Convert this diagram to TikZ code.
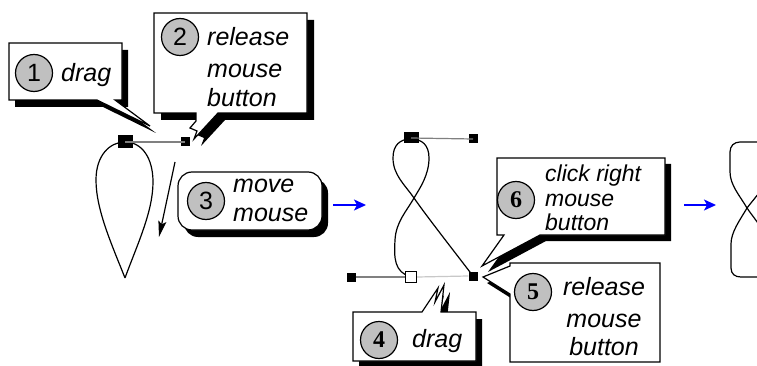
\documentclass[tikz,border=0pt]{standalone}
\usepackage{fontspec}
\setmainfont{Liberation Sans}
\newfontfamily\numserif{Liberation Serif}
\usetikzlibrary{arrows.meta}
\definecolor{numgray}{RGB}{192,192,192}
\definecolor{hgray}{RGB}{128,128,128}
\definecolor{hlight}{RGB}{200,200,200}
\definecolor{arrblue}{RGB}{0,0,255}
\tikzset{
  callout/.style={draw=black, fill=white, line width=1.2pt, line join=miter},
  shadowfill/.style={fill=black},
  numc/.style={circle, draw=black, fill=numgray, line width=1.2pt, minimum size=37pt, inner sep=0pt, font=\fontsize{25}{25}\selectfont},
  numcs/.style={numc, font=\fontsize{24}{24}\selectfont\numserif\bfseries},
  lbl/.style={inner sep=0pt, anchor=base west, font=\fontsize{25}{31}\selectfont\itshape},
  lblsm/.style={lbl, font=\fontsize{23}{24}\selectfont\itshape},
  lblc/.style={lbl, anchor=base},
  handle/.style={draw=hgray, line width=1.2pt},
  handlel/.style={draw=hlight, line width=1.2pt},
  sqb/.style={rectangle, fill=black, minimum size=9pt, inner sep=0pt},
  sqo/.style={rectangle, draw=black, fill=white, line width=1.2pt, minimum size=11pt, inner sep=0pt},
  anchorb/.style={rectangle, fill=black, minimum width=15pt, minimum height=13pt, inner sep=0pt},
  curveline/.style={draw=black, line width=1.2pt},
  bluearrow/.style={draw=arrblue, line width=1.6pt, -{Stealth[length=12pt,width=11pt,inset=3pt]}},
  movearrow/.style={draw=black, line width=1.2pt, -{Stealth[length=16pt,width=8pt,inset=3pt]}}
}
\begin{document}
\begin{tikzpicture}[x=1pt,y=-1pt]
\clip (0,0) rectangle (757,366);
\fill[white] (0,0) rectangle (757,366);

% ---------- left teardrop ----------
\draw[curveline] (125,278) .. controls (112,245) and (96,210) .. (96,180)
  .. controls (96,155) and (110,142) .. (125,142)
  .. controls (142,142) and (153,158) .. (153,182)
  .. controls (153,212) and (137,245) .. (125,278);
\node[anchorb] (a1) at (125,142) {};
\node[sqb] (h1) at (185,142) {};
\draw[handle] (a1.center) -- (h1.center);

% move arrow
\coordinate (m1) at (175,162);
\coordinate (m2) at (159,237);
\draw[movearrow] (m1) -- (m2);

% ---------- callout 1 ----------
\fill[shadowfill,shift={(6,7)}] (9,43) -- (122,43) -- (122,100) -- (115,100) -- (150,126) -- (97,100) -- (9,100) -- cycle;
\draw[callout] (9,43) -- (122,43) -- (122,100) -- (115,100) -- (150,126) -- (97,100) -- (9,100) -- cycle;
\node[numc] (n1) at (34,73) {1};
\node[lbl] (t1) at (61,82) {drag};

% ---------- callout 2 ----------
\fill[shadowfill,shift={(7,7)}] (154,13) -- (307,13) -- (307,113) -- (218,113) -- (194,139) -- (197,131) -- (190,128) -- (196,121) -- (196,113) -- (154,113) -- cycle;
\draw[callout] (154,13) -- (307,13) -- (307,113) -- (218,113) -- (194,139) -- (197,131) -- (190,128) -- (196,121) -- (196,113) -- (154,113) -- cycle;
\node[numc] (n2) at (180,37) {2};
\node[lbl] (t2a) at (207,46) {release};
\node[lbl] (t2b) at (207,78) {mouse};
\node[lbl] (t2c) at (207,107) {button};

% ---------- callout 3 ----------
\fill[shadowfill,rounded corners=14pt] (184,179) rectangle (328,237);
\draw[callout,rounded corners=14pt] (178,172) rectangle (322,230);
\node[numc] (n3) at (206,201) {3};
\node[lbl] (t3a) at (233,193) {move};
\node[lbl] (t3b) at (233,222) {mouse};

% blue arrow 1
\coordinate (b1s) at (333,205);
\coordinate (b1e) at (366,205);
\draw[bluearrow] (b1s) -- (b1e);

% ---------- middle figure eight ----------
\draw[curveline] (473,276) .. controls (450,246) and (425,214) .. (414,198)
  .. controls (405,185) and (393,175) .. (393,158)
  .. controls (393,145) and (400,139) .. (411,139)
  .. controls (422,139) and (429,145) .. (429,158)
  .. controls (429,175) and (420,188) .. (414,198)
  .. controls (406,212) and (396,222) .. (395,240)
  .. controls (394,258) and (394,272) .. (411,277);
\node[anchorb, minimum height=11pt] (a2) at (411,138) {};
\node[sqb] (h2) at (473,139) {};
\draw[handle] (a2.center) -- (h2.center);
\node[sqb] (h3) at (351,277) {};
\node[sqb] (h4) at (473,276) {};
\node[sqo] (a3) at (411,277) {};
\draw[handle] (h3.east) -- (a3.west);
\draw[handlel] (a3.east) -- (h4.west);

% ---------- callout 4 ----------
\fill[shadowfill,shift={(6,7)}] (353,312) -- (422,312) -- (438,288) -- (435,302) -- (444,285) -- (441,312) -- (476,312) -- (476,361) -- (353,361) -- cycle;
\draw[callout] (353,312) -- (422,312) -- (438,288) -- (435,302) -- (444,285) -- (441,312) -- (476,312) -- (476,361) -- (353,361) -- cycle;
\node[numcs] (n4) at (379,340) {4};
\node[lbl] (t4) at (412,347) {drag};

% ---------- callout 5 ----------
\fill[shadowfill,shift={(4,6)}] (510,294) -- (483,277) -- (510,266) -- cycle;
\draw[callout] (510,263) -- (660,263) -- (660,362) -- (510,362) -- (510,294) -- (483,277) -- (510,266) -- cycle;
\node[numcs] (n5) at (533,292) {5};
\node[lblc] (t5a) at (604,295) {release};
\node[lblc] (t5b) at (604,327) {mouse};
\node[lblc] (t5c) at (604,355) {button};

% ---------- callout 6 ----------
\fill[shadowfill,shift={(6,6)}] (497,158) -- (665,158) -- (665,235) -- (540,235) -- (482,266) -- (504,235) -- (497,235) -- cycle;
\draw[callout] (497,158) -- (665,158) -- (665,235) -- (540,235) -- (482,266) -- (504,235) -- (497,235) -- cycle;
\node[numcs] (n6) at (516,200) {6};
\node[lblsm] (t6a) at (545,182) {click right};
\node[lblsm] (t6b) at (545,206) {mouse};
\node[lblsm] (t6c) at (545,230) {button};

% blue arrow 2
\coordinate (b2s) at (684,205);
\coordinate (b2e) at (716,205);
\draw[bluearrow] (b2s) -- (b2e);

% ---------- right figure eight ----------
\draw[curveline] (747,208) .. controls (740,196) and (730,185) .. (730,172)
  -- (730,152) .. controls (730,146) and (734,142) .. (740,142)
  -- (758,142) .. controls (764,142) and (768,146) .. (768,152)
  -- (768,172) .. controls (768,185) and (756,196) .. (747,208)
  .. controls (740,220) and (731,232) .. (731,244)
  -- (731,268) .. controls (731,274) and (735,277) .. (741,277)
  -- (757,277) .. controls (763,277) and (767,274) .. (767,268)
  -- (767,244) .. controls (767,232) and (755,220) .. (747,208);
\end{tikzpicture}
\end{document}
